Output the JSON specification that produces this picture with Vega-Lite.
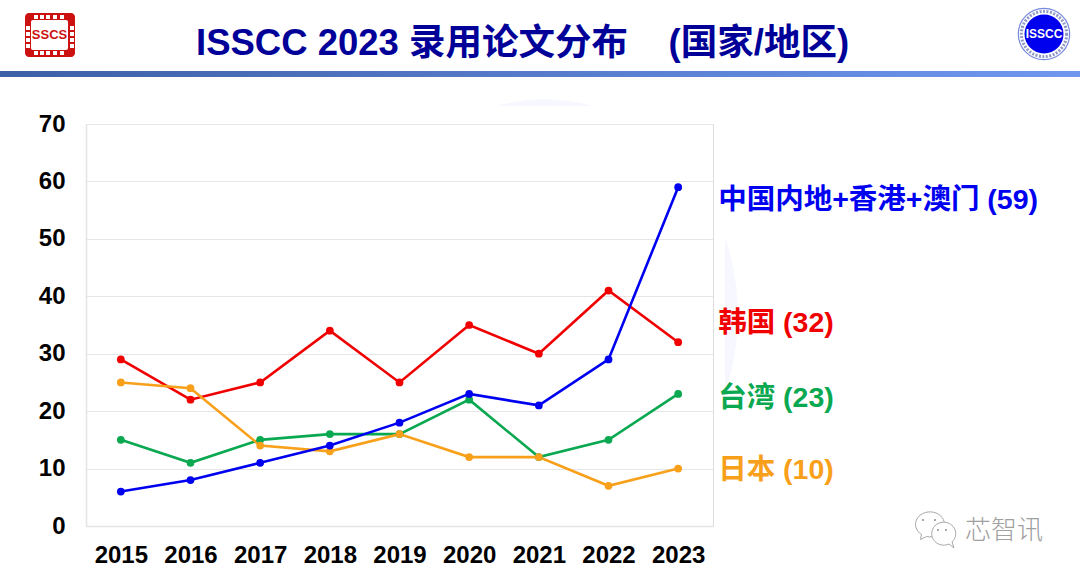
{
  "$schema": "https://vega.github.io/schema/vega-lite/v6.json",
  "autosize": "none",
  "padding": {"left": 86, "top": 124, "right": 367, "bottom": 54},
  "width": 627,
  "height": 402,
  "background": "white",
  "title": {
    "text": "ISSCC 2023 录用论文分布\u00a0\u00a0\u00a0\u00a0(国家/地区)",
    "anchor": "start",
    "frame": "group",
    "dx": 110,
    "dy": 86,
    "offset": 0,
    "baseline": "alphabetic",
    "font": "Liberation Sans, Noto Sans CJK SC",
    "fontSize": 36.5,
    "fontWeight": "bold",
    "color": "#000099"
  },
  "datasets": {
    "papers": [
      {"year": "2015", "series": "韩国", "papers": 29},
      {"year": "2016", "series": "韩国", "papers": 22},
      {"year": "2017", "series": "韩国", "papers": 25},
      {"year": "2018", "series": "韩国", "papers": 34},
      {"year": "2019", "series": "韩国", "papers": 25},
      {"year": "2020", "series": "韩国", "papers": 35},
      {"year": "2021", "series": "韩国", "papers": 30},
      {"year": "2022", "series": "韩国", "papers": 41},
      {"year": "2023", "series": "韩国", "papers": 32},
      {"year": "2015", "series": "台湾", "papers": 15},
      {"year": "2016", "series": "台湾", "papers": 11},
      {"year": "2017", "series": "台湾", "papers": 15},
      {"year": "2018", "series": "台湾", "papers": 16},
      {"year": "2019", "series": "台湾", "papers": 16},
      {"year": "2020", "series": "台湾", "papers": 22},
      {"year": "2021", "series": "台湾", "papers": 12},
      {"year": "2022", "series": "台湾", "papers": 15},
      {"year": "2023", "series": "台湾", "papers": 23},
      {"year": "2015", "series": "日本", "papers": 25},
      {"year": "2016", "series": "日本", "papers": 24},
      {"year": "2017", "series": "日本", "papers": 14},
      {"year": "2018", "series": "日本", "papers": 13},
      {"year": "2019", "series": "日本", "papers": 16},
      {"year": "2020", "series": "日本", "papers": 12},
      {"year": "2021", "series": "日本", "papers": 12},
      {"year": "2022", "series": "日本", "papers": 7},
      {"year": "2023", "series": "日本", "papers": 10},
      {"year": "2015", "series": "中国内地+香港+澳门", "papers": 6},
      {"year": "2016", "series": "中国内地+香港+澳门", "papers": 8},
      {"year": "2017", "series": "中国内地+香港+澳门", "papers": 11},
      {"year": "2018", "series": "中国内地+香港+澳门", "papers": 14},
      {"year": "2019", "series": "中国内地+香港+澳门", "papers": 18},
      {"year": "2020", "series": "中国内地+香港+澳门", "papers": 23},
      {"year": "2021", "series": "中国内地+香港+澳门", "papers": 21},
      {"year": "2022", "series": "中国内地+香港+澳门", "papers": 29},
      {"year": "2023", "series": "中国内地+香港+澳门", "papers": 59}
    ],
    "blank": [{"id": 1}]
  },
  "data": {"name": "papers"},
  "encoding": {
    "x": {
      "field": "year",
      "type": "ordinal",
      "scale": {"type": "point", "padding": 0.5},
      "axis": {
        "title": null,
        "labelAngle": 0,
        "labelFont": "Liberation Sans",
        "labelFontSize": 24,
        "labelFontWeight": "bold",
        "labelColor": "#000000",
        "labelPadding": 17,
        "ticks": false,
        "grid": false,
        "domainColor": "#e4e4e4",
        "domainWidth": 1.5
      }
    },
    "y": {
      "field": "papers",
      "type": "quantitative",
      "scale": {"domain": [0, 70], "nice": false},
      "axis": {
        "title": null,
        "values": [0, 10, 20, 30, 40, 50, 60, 70],
        "labelFont": "Liberation Sans",
        "labelFontSize": 24,
        "labelFontWeight": "bold",
        "labelColor": "#000000",
        "labelPadding": 21,
        "ticks": false,
        "grid": true,
        "gridColor": "#e6e6e6",
        "gridWidth": 1.2,
        "domainColor": "#e4e4e4",
        "domainWidth": 1.5
      }
    },
    "color": {
      "field": "series",
      "type": "nominal",
      "legend": null,
      "scale": {
        "domain": ["中国内地+香港+澳门", "韩国", "台湾", "日本"],
        "range": ["#0000f0", "#f00000", "#0aa850", "#f9a01b"]
      }
    }
  },
  "layer": [
    {
      "data": {"name": "blank"},
      "mark": {"type": "point", "filled": true, "shape": "M-48,-209A193,218,0,0,1,48,-209ZM180,-78A193,218,0,0,1,180,78Z", "size": 4, "opacity": 1},
      "encoding": {"x": {"value": 459}, "y": {"value": 191}, "color": {"value": "#f6f7ff"}}
    },
    {"mark": {"type": "line", "strokeWidth": 2.6}},
    {"mark": {"type": "point", "filled": true, "size": 60, "opacity": 1}},
    {
      "transform": [{"filter": "datum.year == '2023' && datum.series == '中国内地+香港+澳门'"}, {"calculate": "datum.series + ' (' + datum.papers + ')'", "as": "label"}],
      "mark": {"type": "text", "align": "left", "baseline": "middle", "dx": 40, "dy": 13, "font": "Liberation Sans, Noto Sans CJK SC", "fontSize": 28.5, "fontWeight": "bold"},
      "encoding": {"text": {"field": "label"}}
    },
    {
      "transform": [{"filter": "datum.year == '2023' && datum.series == '韩国'"}, {"calculate": "datum.series + ' (' + datum.papers + ')'", "as": "label"}],
      "mark": {"type": "text", "align": "left", "baseline": "middle", "dx": 40, "dy": -19, "font": "Liberation Sans, Noto Sans CJK SC", "fontSize": 28.5, "fontWeight": "bold"},
      "encoding": {"text": {"field": "label"}}
    },
    {
      "transform": [{"filter": "datum.year == '2023' && datum.series == '台湾'"}, {"calculate": "datum.series + ' (' + datum.papers + ')'", "as": "label"}],
      "mark": {"type": "text", "align": "left", "baseline": "middle", "dx": 40, "dy": 4, "font": "Liberation Sans, Noto Sans CJK SC", "fontSize": 28.5, "fontWeight": "bold"},
      "encoding": {"text": {"field": "label"}}
    },
    {
      "transform": [{"filter": "datum.year == '2023' && datum.series == '日本'"}, {"calculate": "datum.series + ' (' + datum.papers + ')'", "as": "label"}],
      "mark": {"type": "text", "align": "left", "baseline": "middle", "dx": 40, "dy": 1, "font": "Liberation Sans, Noto Sans CJK SC", "fontSize": 28.5, "fontWeight": "bold"},
      "encoding": {"text": {"field": "label"}}
    },
    {
      "data": {"name": "blank"},
      "mark": {"type": "rect"},
      "encoding": {"x": {"value": -86}, "x2": {"value": 994}, "y": {"value": -53}, "y2": {"value": -47}, "color": {"value": {"gradient": "linear", "x1": 0, "x2": 1, "y1": 0, "y2": 0, "stops": [{"offset": 0, "color": "#3d5fa6"}, {"offset": 1, "color": "#6f97ef"}]}}}
    },
    {
      "data": {"name": "blank"},
      "mark": {"type": "rect", "cornerRadius": 4},
      "encoding": {"x": {"value": -61}, "x2": {"value": -11}, "y": {"value": -111}, "y2": {"value": -67}, "color": {"value": "#cc1111"}}
    },
    {
      "data": {"name": "blank"},
      "mark": {"type": "rect", "cornerRadius": 2},
      "encoding": {"x": {"value": -55}, "x2": {"value": -18}, "y": {"value": -104}, "y2": {"value": -74}, "color": {"value": "#ffffff"}}
    },
    {
      "data": {"name": "blank"},
      "mark": {"type": "point", "filled": true, "shape": "M-16,-20h4v4h-4zM-10,-20h4v4h-4zM-4,-20h4v4h-4zM3,-20h4v4h-4zM10,-20h4v4h-4zM-16,16h4v4h-4zM-10,16h4v4h-4zM-4,16h4v4h-4zM3,16h4v4h-4zM10,16h4v4h-4zM-24,-9h4v4h-4zM-24,-3h4v4h-4zM-24,3h4v4h-4zM-24,9h4v4h-4zM20,-9h4v4h-4zM20,-3h4v4h-4zM20,3h4v4h-4zM20,9h4v4h-4z", "size": 4, "opacity": 1},
      "encoding": {"x": {"value": -36}, "y": {"value": -89}, "color": {"value": "#ffffff"}}
    },
    {
      "data": {"name": "blank"},
      "mark": {"type": "text", "text": "SSCS", "align": "center", "baseline": "middle", "font": "Liberation Sans", "fontSize": 13, "fontWeight": "bold"},
      "encoding": {"x": {"value": -36.5}, "y": {"value": -89}, "color": {"value": "#cc1111"}}
    },
    {
      "data": {"name": "blank"},
      "mark": {"type": "point", "filled": false, "shape": "circle", "size": 2640, "strokeWidth": 1.2, "opacity": 1},
      "encoding": {"x": {"value": 958}, "y": {"value": -90}, "color": {"value": "#7788dd"}}
    },
    {
      "data": {"name": "blank"},
      "mark": {"type": "point", "filled": false, "shape": "circle", "size": 2050, "strokeWidth": 3, "strokeDash": [2, 1.5], "opacity": 0.55},
      "encoding": {"x": {"value": 958}, "y": {"value": -90}, "color": {"value": "#334499"}}
    },
    {
      "data": {"name": "blank"},
      "mark": {"type": "point", "filled": true, "shape": "circle", "size": 1520, "opacity": 1},
      "encoding": {"x": {"value": 958}, "y": {"value": -90}, "color": {"value": "#0000ee"}}
    },
    {
      "data": {"name": "blank"},
      "mark": {"type": "text", "text": "ISSCC", "align": "center", "baseline": "middle", "font": "Liberation Sans", "fontSize": 12, "fontWeight": "bold"},
      "encoding": {"x": {"value": 958}, "y": {"value": -90}, "color": {"value": "#ffffff"}}
    },
    {
      "data": {"name": "blank"},
      "mark": {"type": "point", "filled": true, "shape": "M-8,9L-9,14L-3,11A14.5,12.5,0,1,0,-8,9Z", "size": 4, "stroke": "#a8a8a8", "strokeWidth": 1, "opacity": 1},
      "encoding": {"x": {"value": 843.5}, "y": {"value": 401.5}, "color": {"value": "#ffffff"}}
    },
    {
      "data": {"name": "blank"},
      "mark": {"type": "point", "filled": true, "shape": "M6,9L11,13L9,7A12,11.5,0,1,0,6,9Z", "size": 4, "stroke": "#a8a8a8", "strokeWidth": 1, "opacity": 1},
      "encoding": {"x": {"value": 857}, "y": {"value": 411}, "color": {"value": "#ffffff"}}
    },
    {
      "data": {"name": "blank"},
      "mark": {"type": "point", "filled": true, "shape": "M-7,-5h2v2h-2zM5,-5h2v2h-2zM8,5h2v2h-2zM16,5h2v2h-2z", "size": 4, "opacity": 1},
      "encoding": {"x": {"value": 843}, "y": {"value": 400}, "color": {"value": "#a8a8a8"}}
    },
    {
      "data": {"name": "blank"},
      "mark": {"type": "text", "text": "芯智讯", "align": "left", "baseline": "middle", "font": "Noto Sans CJK SC", "fontSize": 26, "fontWeight": 300},
      "encoding": {"x": {"value": 879}, "y": {"value": 407}, "color": {"value": "#a0a0a0"}}
    }
  ]
}
